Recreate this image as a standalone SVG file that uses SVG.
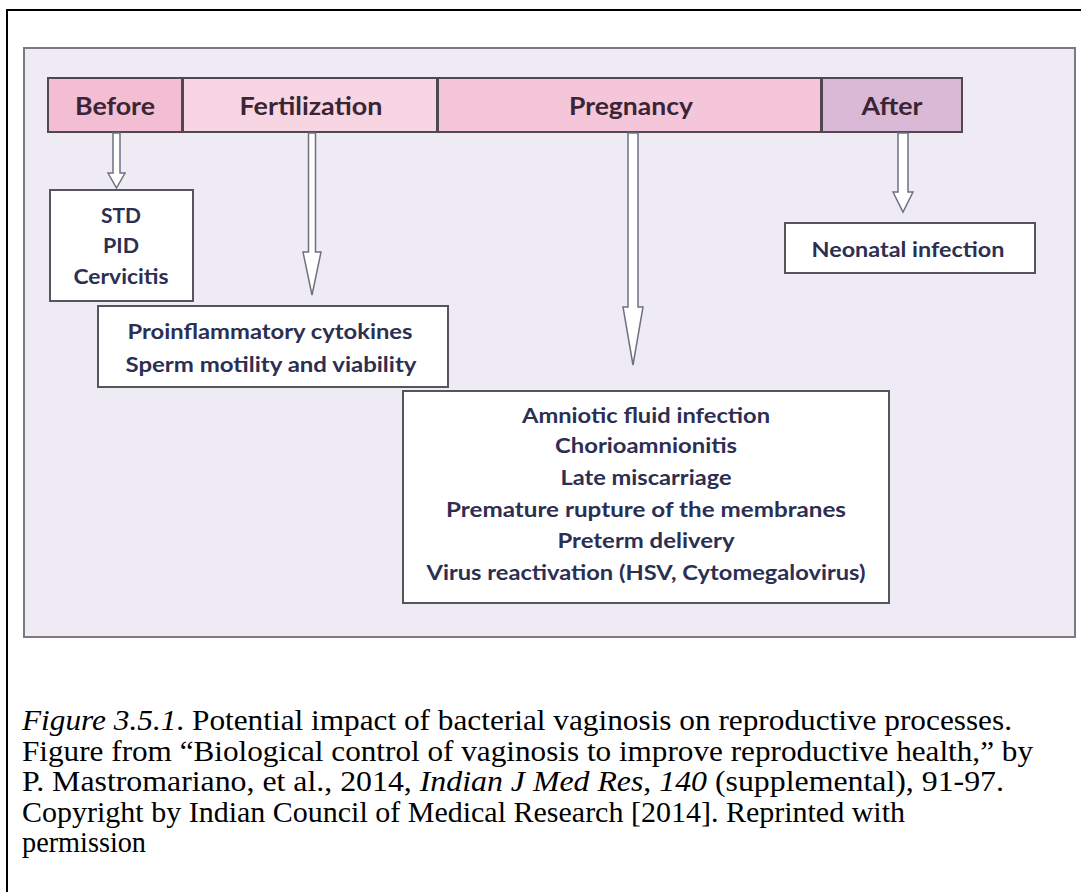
<svg xmlns="http://www.w3.org/2000/svg" width="1081" height="892" viewBox="0 0 1081 892">
<style>
.frame{fill:none;stroke:#000;stroke-width:2}
.panel{fill:#efebf4;stroke:#7a7a80;stroke-width:2}
.hdr{stroke:#4f4850;stroke-width:2}
.box{fill:#ffffff;stroke:#55555c;stroke-width:2}
.ht{font-family:Lato,"Liberation Sans",sans-serif;font-weight:bold;font-size:25px;fill:#3a2535;text-anchor:middle}
.bt{font-family:Lato,"Liberation Sans",sans-serif;font-weight:bold;font-size:21px;fill:#2c2f52;text-anchor:middle}
.arr{fill:#ffffff;stroke:#6c7280;stroke-width:1.5;stroke-linejoin:miter}
.cap{font-family:"Liberation Serif","Times New Roman",serif;font-size:29px;fill:#000}
</style>
<rect x="0" y="0" width="1081" height="892" fill="#ffffff"/>
<path class="frame" d="M7,900 V10 H1090"/>
<rect class="panel" x="24" y="48" width="1051" height="589"/>
<g id="before">
<rect class="hdr" x="48" y="78" width="134" height="54" fill="#f3bdd3"/>
<text class="ht" x="115" y="115" textLength="80" lengthAdjust="spacingAndGlyphs">Before</text>
</g>
<g id="fertilization">
<rect class="hdr" x="183" y="78" width="254" height="54" fill="#f7d5e3"/>
<text class="ht" x="311" y="115" textLength="143" lengthAdjust="spacingAndGlyphs">Fertilization</text>
</g>
<g id="pregnancy">
<rect class="hdr" x="438" y="78" width="383" height="54" fill="#f5c6d9"/>
<text class="ht" x="631" y="115" textLength="124" lengthAdjust="spacingAndGlyphs">Pregnancy</text>
</g>
<g id="after">
<rect class="hdr" x="822" y="78" width="140" height="54" fill="#d9b9d6"/>
<text class="ht" x="892" y="115" textLength="61" lengthAdjust="spacingAndGlyphs">After</text>
</g>
<g id="connectors">
<path class="arr" d="M113,133 V173 H108 L116.5,188 L125,173 H120 V133 Z"/>
<path class="arr" d="M308.5,133 V252 H303 L312,295 L321,252 H315.5 V133 Z"/>
<path class="arr" d="M628,133 V307 H623 L633,365 L643,307 H638 V133 Z"/>
<path class="arr" d="M898,133 V192 H893 L903,212 L913,192 H908 V133 Z"/>
</g>
<g id="std">
<rect class="box" x="50" y="190" width="143" height="111"/>
<text class="bt" x="121" y="223" textLength="40" lengthAdjust="spacingAndGlyphs">STD</text>
<text class="bt" x="121" y="253" textLength="36" lengthAdjust="spacingAndGlyphs">PID</text>
<text class="bt" x="121" y="284" textLength="95" lengthAdjust="spacingAndGlyphs">Cervicitis</text>
</g>
<g id="fert-effects">
<rect class="box" x="98" y="306" width="350" height="81"/>
<text class="bt" x="270" y="339" textLength="285" lengthAdjust="spacingAndGlyphs">Proinflammatory cytokines</text>
<text class="bt" x="271" y="372" textLength="291" lengthAdjust="spacingAndGlyphs">Sperm motility and viability</text>
</g>
<g id="neonatal">
<rect class="box" x="785" y="223" width="250" height="50"/>
<text class="bt" x="908" y="257" textLength="193" lengthAdjust="spacingAndGlyphs">Neonatal infection</text>
</g>
<g id="preg-effects">
<rect class="box" x="403" y="391" width="486" height="212"/>
<text class="bt" x="646" y="423" textLength="248" lengthAdjust="spacingAndGlyphs">Amniotic fluid infection</text>
<text class="bt" x="646" y="453" textLength="182" lengthAdjust="spacingAndGlyphs">Chorioamnionitis</text>
<text class="bt" x="646" y="485" textLength="171" lengthAdjust="spacingAndGlyphs">Late miscarriage</text>
<text class="bt" x="646" y="517" textLength="400" lengthAdjust="spacingAndGlyphs">Premature rupture of the membranes</text>
<text class="bt" x="646" y="548" textLength="177" lengthAdjust="spacingAndGlyphs">Preterm delivery</text>
<text class="bt" x="646" y="580" textLength="439" lengthAdjust="spacingAndGlyphs">Virus reactivation (HSV, Cytomegalovirus)</text>
</g>
<g id="caption">
<text class="cap" x="22" y="730" textLength="990" lengthAdjust="spacingAndGlyphs"><tspan font-style="italic">Figure 3.5.1</tspan>. Potential impact of bacterial vaginosis on reproductive processes.</text>
<text class="cap" x="22" y="761" textLength="1011" lengthAdjust="spacingAndGlyphs">Figure from “Biological control of vaginosis to improve reproductive health,” by</text>
<text class="cap" x="22" y="791" textLength="982" lengthAdjust="spacingAndGlyphs">P. Mastromariano, et al., 2014, <tspan font-style="italic">Indian J Med Res</tspan>, <tspan font-style="italic">140</tspan> (supplemental), 91-97.</text>
<text class="cap" x="22" y="822" textLength="883" lengthAdjust="spacingAndGlyphs">Copyright by Indian Council of Medical Research [2014]. Reprinted with</text>
<text class="cap" x="22" y="852" textLength="124" lengthAdjust="spacingAndGlyphs">permission</text>
</g>
</svg>
